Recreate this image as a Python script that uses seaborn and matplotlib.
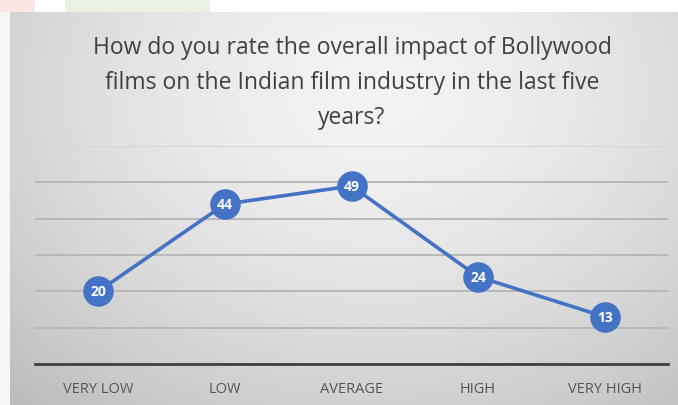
import numpy as np
import pandas as pd
import seaborn as sns
import matplotlib.pyplot as plt
from matplotlib.patches import Rectangle

categories = ["VERY LOW", "LOW", "AVERAGE", "HIGH", "VERY HIGH"]
responses = [20, 44, 49, 24, 13]
title = ("How do you rate the overall impact of Bollywood\n"
         "films on the Indian film industry in the last five\n"
         "years?")

sns.set_theme(style="white")
plt.rcParams['font.family'] = ['Open Sans', 'DejaVu Sans']

W, H = 678, 406
fig = plt.figure(figsize=(W / 100, H / 100), dpi=100)
fig.patch.set_facecolor('white')

# faint strips along the page edge
fig.patches.append(Rectangle((0, 1 - 13 / H), 35 / W, 13 / H, transform=fig.transFigure,
                             facecolor='#fbe6e6', edgecolor='none', zorder=0))
fig.patches.append(Rectangle((65 / W, 1 - 13 / H), 145 / W, 13 / H, transform=fig.transFigure,
                             facecolor='#e9f1e3', edgecolor='none', zorder=0))
fig.patches.append(Rectangle((0, 0), 10 / W, 1 - 13 / H, transform=fig.transFigure,
                             facecolor='#f8f5f5', edgecolor='none', zorder=0))

# chart panel with radial grey gradient
bg = fig.add_axes([10 / W, 0, 1 - 10 / W, 1 - 13 / H])
yy, xx = np.mgrid[0:1:300j, 0:1:500j]
r = np.sqrt(((xx - 0.55) / 0.75) ** 2 + ((yy - 0.2) / 1.0) ** 2)
shade = np.clip(0.95 - 0.19 * r ** 1.6, 0, 1)
bg.imshow(shade, cmap='gray', vmin=0, vmax=1, aspect='auto', extent=[0, 1, 0, 1],
          origin='upper', interpolation='bilinear')
bg.set_axis_off()

ax = fig.add_axes([35 / W, 41 / H, 633 / W, 218 / H])
ax.patch.set_alpha(0)

df = pd.DataFrame({"pos": np.arange(len(categories)), "value": responses})
sns.lineplot(data=df, x="pos", y="value", ax=ax, color='#4472C4', linewidth=2.6,
             marker='o', markersize=22, markeredgewidth=0, zorder=3)

for x, v in zip(df["pos"], df["value"]):
    ax.text(x, v, str(v), ha='center', va='center', color='white',
            fontsize=10, fontweight='bold', zorder=4)

ax.set_xlim(-0.5, len(categories) - 0.5)
ax.set_ylim(0, 60)
ax.set_xticks(df["pos"])
ax.set_xticklabels(categories, fontsize=10.5, color='#555555')
ax.set_yticks(range(0, 61, 10))
ax.set_yticklabels([])
ax.tick_params(axis='both', length=0)
ax.tick_params(axis='x', pad=12)
ax.yaxis.grid(True, color='#b8b8b8', linewidth=1.4)
ax.get_ygridlines()[-1].set_color('#d6d6d6')
ax.set_xlabel('')
ax.set_ylabel('')
for s in ['top', 'left', 'right']:
    ax.spines[s].set_visible(False)
ax.spines['bottom'].set_color('#404040')
ax.spines['bottom'].set_linewidth(2.0)
ax.spines['bottom'].set_zorder(2)

fig.text(352 / W, 1 - 36 / H, title, ha='center', va='top', fontsize=16.5,
         color='#404040', linespacing=1.6)

fig.savefig('out.png', dpi=100)
